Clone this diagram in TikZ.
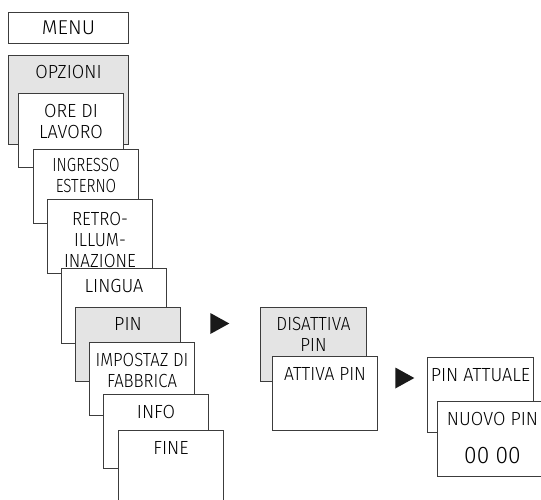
\documentclass[tikz,border=0pt]{standalone}
\usepackage{fontspec}
\setmainfont{Fira Sans}[UprightFont=* Light, FakeStretch=0.95]
\usetikzlibrary{positioning,shapes.geometric}

\definecolor{linegray}{HTML}{3C3C3C}
\definecolor{selgray}{HTML}{E4E4E4}

\begin{document}
\begin{tikzpicture}[x=1pt, y=-1pt,
    every node/.style={font=\fontsize{19}{21}\selectfont},
    box/.style={draw=linegray, fill=white, line width=1pt, minimum width=105pt, minimum height=74pt, anchor=north west, inner sep=0pt},
    selbox/.style={box, fill=selgray},
    boxtext/.style={anchor=north, align=center, inner sep=0pt, yshift=-11pt},
    narrow/.style={font=\fontsize{19}{21}\selectfont\addfontfeature{FakeStretch=#1}},
    marker/.style={isosceles triangle, isosceles triangle stretches, fill=black!90, inner sep=0pt, minimum width=21pt, minimum height=19pt}]
    \useasboundingbox (0,0) rectangle (541,499);
    \clip (0,0) rectangle (541,499);

    % main menu cascade
    \node[box, minimum width=120pt, minimum height=31pt, font=\fontsize{20}{21}\selectfont\addfontfeature{FakeStretch=1.02}] (menu) at (8,12) {MENU};
    \node[selbox, minimum width=120pt, minimum height=89pt, label={[boxtext, yshift=1pt]north:OPZIONI}] (opzioni) at (8,55) {};
    \node[box, label={[boxtext]north:ORE DI\\LAVORO}] (ore) at (18,93) {};
    \node[box, label={[boxtext, yshift=2pt, narrow=0.8]north:INGRESSO\\ESTERNO}] (ingresso) at (33,149) {};
    \node[box, label={[boxtext, yshift=-2pt, narrow=0.9]north:RETRO-\\ILLUM-\\INAZIONE}] (retro) at (47,199) {};
    \node[box, minimum height=75pt, label={[boxtext]north:LINGUA}] (lingua) at (61,268) {};
    \node[selbox, label={[boxtext, yshift=1pt]north:PIN}] (pin) at (75,307) {};
    \node[box, minimum height=73pt, label={[boxtext, narrow=0.88]north:IMPOSTAZ DI\\FABBRICA}] (impostaz) at (89,342) {};
    \node[box, label={[boxtext]north:INFO}] (info) at (103,394) {};
    \node[box, minimum height=80pt, label={[boxtext]north:FINE}] (fine) at (118,430) {};

    % PIN submenu
    \node[marker] (arrA) at (216.5,323.5) {};
    \node[selbox, minimum width=106pt, label={[boxtext, yshift=1pt, narrow=0.9]north:DISATTIVA\\PIN}] (disattiva) at (260,307) {};
    \node[box, label={[boxtext, narrow=0.92]north:ATTIVA PIN}] (attiva) at (272,356) {};

    \node[marker] (arrB) at (401.5,378) {};
    \node[box, minimum width=106pt, minimum height=75pt, label={[boxtext]north:PIN ATTUALE}] (attuale) at (427,357) {};
    \node[box, minimum width=110pt, minimum height=75pt, label={[boxtext]north:NUOVO PIN},
        label={[boxtext, yshift=-35pt, font=\fontsize{24}{24}\selectfont]north:00 00}] (nuovo) at (437,401) {};
\end{tikzpicture}
\end{document}
